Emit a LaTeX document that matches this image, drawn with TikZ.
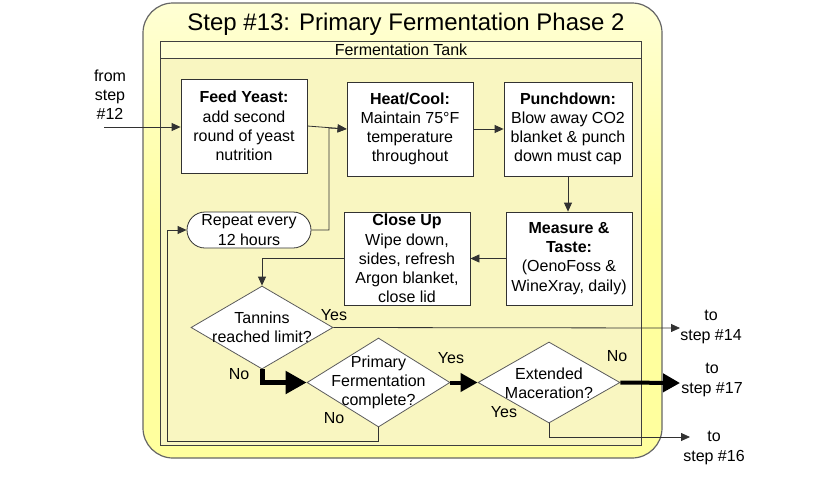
\documentclass[tikz,border=0pt]{standalone}
\usepackage{fontspec}
\setmainfont{Liberation Sans}
\usetikzlibrary{arrows.meta,shapes.geometric}
\definecolor{outerfill}{RGB}{255,255,158}
\definecolor{headfill}{RGB}{255,255,212}
\definecolor{poolfill}{RGB}{249,246,193}
\definecolor{linec}{RGB}{50,50,50}
\tikzset{
  txt/.style={font=\fontsize{16}{19.2}\selectfont, align=center, inner sep=0pt},
  box/.style={txt, draw=linec, fill=white, line width=0.8pt, minimum width=126pt, minimum height=94pt},
  dia/.style={diamond, draw=linec!80, fill=white, line width=0.8pt, inner sep=0pt},
  conn/.style={draw=linec, line width=0.8pt, -{Triangle[length=9pt,width=8pt]}},
  thick conn/.style={draw=black, line width=5pt, -{Triangle[length=21pt,width=22pt]}},
  mid conn/.style={draw=black, line width=4pt, -{Triangle[length=17pt,width=18pt]}},
  lbl/.style={txt}
}
\begin{document}
\begin{tikzpicture}[x=1pt,y=-1pt]
\useasboundingbox (0,0) rectangle (840,477);
% outer rounded container
\draw[draw=black!60, line width=1.2pt, top color=headfill, bottom color=outerfill, middle color=outerfill, rounded corners=30pt] (143,3) rectangle (662,458);
\node[txt, font=\fontsize{24}{28}\selectfont] (title) at (406,24) {Step \#13: Primary Fermentation Phase 2};
% pool
\draw[draw=black!75, line width=0.9pt, fill=poolfill] (160,58) rectangle (641,445);
\draw[draw=black!75, line width=0.9pt, fill=headfill] (160,41) rectangle (641,58);
\node[txt, font=\fontsize{16}{17}\selectfont] (pool) at (401,49.5) {Fermentation Tank};
% boxes
\node[box] (feed) at (244,126) {\textbf{Feed Yeast:}\\add second\\round of yeast\\nutrition};
\node[box] (heat) at (410,129) {\textbf{Heat/Cool:}\\Maintain 75°F\\temperature\\throughout};
\node[box, minimum width=128pt] (punch) at (568,129) {\textbf{Punchdown:}\\Blow away CO2\\blanket \& punch\\down must cap};
\node[box, minimum height=93pt] (meas) at (569,258.5) {\textbf{Measure \&}\\\textbf{Taste:}\\(OenoFoss \&\\WineXray, daily)};
\node[box, minimum height=93pt] (close) at (407,258.5) {\textbf{Close Up}\\Wipe down,\\sides, refresh\\Argon blanket,\\close lid};
\node[txt, draw=linec, fill=white, line width=0.8pt, rounded corners=18pt, minimum width=124pt, minimum height=36pt] (rep) at (249,230) {Repeat every\\12 hours};
% diamonds
\node[dia, minimum width=142pt, minimum height=83pt] (tan) at (262,327.5) {};
\node[txt] (tant) at (tan.center) {Tannins\\reached limit?};
\node[dia, minimum width=143pt, minimum height=89pt] (prim) at (378.5,382.5) {};
\node[txt] (primt) at (prim.center) {Primary\\Fermentation\\complete?};
\node[dia, minimum width=142pt, minimum height=81pt] (ext) at (549,382.5) {};
\node[txt] (extt) at ([yshift=-1pt]ext.center) {Extended\\Maceration?};
% outside labels
\node[txt] (from) at (110,95) {from\\step\\\#12};
\node[txt] (to14) at (711,327) {to\\step \#14};
\node[txt] (to17) at (712,380) {to\\step \#17};
\node[txt] (to16) at (714,448) {to\\step \#16};
\coordinate (fromstart) at (104,127);
\coordinate (e14) at (680,328);
\coordinate (e17) at (680,383);
\coordinate (e16) at (690,437);
\coordinate (j16) at (549,437);
\coordinate (jrep) at (329,128);
\coordinate (nl) at (167,441);
% connectors
\draw[conn] (fromstart) -- (fromstart -| feed.west);
\draw[conn] (feed.east) -- (heat.west);
\draw[conn] (rep.east) -| (jrep) -- (heat.west);
\draw[conn] (heat.east) -- (punch.west);
\draw[conn] (punch.south) -- (punch.south |- meas.north);
\draw[conn] (meas.west) -- (close.east);
\draw[conn] (close.west) -| (tan.north);
\draw[conn] (tan.east) -- (e14);
\draw[conn] (prim.south) |- (nl) |- (rep.west);
\draw[conn] (ext.south) -- (j16) -- (e16);
\draw[thick conn] (tan.south) |- (prim.west);
\draw[mid conn] (prim.east) -- (ext.west);
\draw[mid conn] (ext.east) -- (e17);
% yes/no labels
\node[lbl] (y1) at (334,315) {Yes};
\node[lbl] (n1) at (239,374) {No};
\node[lbl] (y2) at (451,358) {Yes};
\node[lbl] (n2) at (334,418) {No};
\node[lbl] (n3) at (617,356) {No};
\node[lbl] (y3) at (504,412) {Yes};
\end{tikzpicture}
\end{document}
